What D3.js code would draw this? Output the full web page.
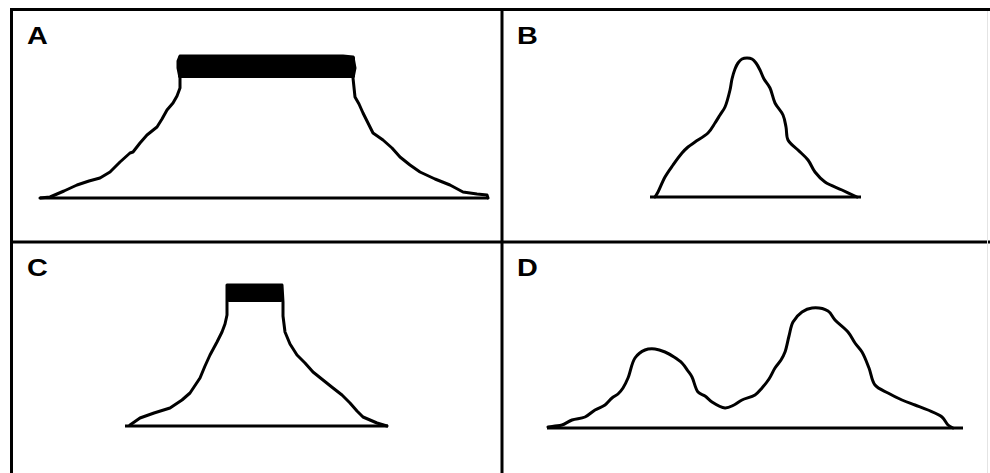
<!DOCTYPE html>
<html>
<head>
<meta charset="utf-8">
<script src="https://cdn.jsdelivr.net/npm/d3@7"></script>
<style>
  body { margin: 0; background: #fff; }
  svg { display: block; }
</style>
</head>
<body>
<script>
// panel labels
const labels = ["A", "B", "C", "D"];

// outline of each profile: x offset from panel edge, height above baseline
const curveA = [[28,0],[38,1],[52,7],[65,13],[77,17],[88,20],[98,26],[108,36],[118,45],[121,46],[128,55],[135,63],[145,71],[150,79],[155,88],[161,95],[165,102],[168,110],[168,120],[166,130],[166,137],[168,142],
  [331,142],[341,141],[343,130],[341,120],[343,101],[347,94],[351,85],[356,75],[361,65],[371,58],[380,50],[388,41],[398,33],[408,26],[423,19],[438,13],[451,6],[465,4],[475,3],[476,0]];
const barA = { x0: 166, x1: 343, h0: 120, h1: 142 };
const baseA = [28, 476];

const curveB = [[153,0],[156,5],[163,20],[171,32],[180,44],[186,50],[193,55],[206,64],[213,74],[218,82],[223,90],[228,107],[230,118],[233,128],[236,134],[240,138],[245,139],[250,138],[254,134],[258,127],[262,118],[268,109],[273,94],[281,82],[284,70],[286,57],[296,47],[306,37],[313,25],[323,15],[340,7],[355,0]];
const baseB = [148, 359];

const curveC = [[118,1],[128,8],[142,13],[158,18],[170,26],[178,33],[188,48],[193,60],[198,71],[205,84],[210,94],[213,102],[215,111],[215,124],[215,141],
  [270,141],[271,124],[271,110],[273,94],[278,82],[285,71],[293,63],[301,54],[311,46],[321,38],[330,31],[338,23],[345,15],[351,9],[365,3],[375,0]];
const barC = { x0: 215, x1: 271, h0: 124, h1: 141 };
const baseC = [113, 376];

const curveD = [[46,1],[53,2],[60,3],[70,8],[83,11],[93,18],[103,23],[110,30],[116,34],[121,40],[126,50],[133,70],[143,78],[153,79],[163,76],[172,71],[180,65],[186,57],[190,51],[196,36],[203,32],[210,26],[223,20],[232,23],[240,28],[253,33],[260,40],[267,49],[273,60],[279,68],[283,76],[287,92],[291,106],[300,116],[310,120],[326,117],[333,108],[346,96],[353,85],[360,76],[367,60],[373,43],[386,35],[400,28],[413,23],[426,18],[440,11],[446,3],[451,0]];
const baseD = [45, 461];

const W = 990, H = 473;
const lineW = 3;

const panels = [
  { label: labels[0], left: 12,  base: 198, curve: curveA, bar: barA, baseline: baseA, smooth: false },
  { label: labels[1], left: 502, base: 197, curve: curveB, bar: null, baseline: baseB, smooth: true },
  { label: labels[2], left: 12,  base: 426, curve: curveC, bar: barC, baseline: baseC, smooth: false },
  { label: labels[3], left: 502, base: 428, curve: curveD, bar: null, baseline: baseD, smooth: true }
];

const svg = d3.select("body").append("svg")
  .attr("width", W)
  .attr("height", H);

// grid frame
const frame = svg.append("g").attr("stroke", "#000").attr("stroke-width", 3);
frame.append("line").attr("x1", 10).attr("x2", W).attr("y1", 9.5).attr("y2", 9.5);
frame.append("line").attr("x1", 10).attr("x2", W).attr("y1", 242).attr("y2", 242);
frame.append("line").attr("x1", 11.5).attr("x2", 11.5).attr("y1", 8).attr("y2", H);
frame.append("line").attr("x1", 502).attr("x2", 502).attr("y1", 8).attr("y2", H);
svg.append("line").attr("x1", 987.5).attr("x2", 987.5).attr("y1", 11).attr("y2", H)
  .attr("stroke", "#e4e4e4").attr("stroke-width", 1);

panels.forEach((p, i) => {
  const x = d3.scaleLinear().domain([0, 480]).range([p.left, p.left + 480]);
  const y = d3.scaleLinear().domain([0, 200]).range([p.base, p.base - 200]);
  const g = svg.append("g");

  const line = d3.line()
    .x(d => x(d[0]))
    .y(d => y(d[1]))
    .curve(p.smooth ? d3.curveCatmullRom.alpha(0.5) : d3.curveLinear);

  if (p.bar) {
    g.append("rect")
      .attr("x", x(p.bar.x0))
      .attr("y", y(p.bar.h1))
      .attr("width", x(p.bar.x1) - x(p.bar.x0))
      .attr("height", y(p.bar.h0) - y(p.bar.h1))
      .attr("rx", 2)
      .attr("fill", "#000");
  }

  g.append("path")
    .datum(p.curve)
    .attr("d", line)
    .attr("fill", "none")
    .attr("stroke", "#000")
    .attr("stroke-width", lineW)
    .attr("stroke-linejoin", "round")
    .attr("stroke-linecap", "round");

  g.append("line")
    .attr("x1", x(p.baseline[0]))
    .attr("x2", x(p.baseline[1]))
    .attr("y1", y(0))
    .attr("y2", y(0))
    .attr("stroke", "#000")
    .attr("stroke-width", 3);

  // labels look slightly wide in the original
  g.append("text")
    .attr("transform", `translate(${p.left + 15}, ${i < 2 ? 44 : 276}) scale(1.2, 1)`)
    .style("font-family", "Liberation Sans, Arial, sans-serif")
    .style("font-weight", "bold")
    .style("font-size", "24px")
    .text(p.label);
});
</script>
</body>
</html>
